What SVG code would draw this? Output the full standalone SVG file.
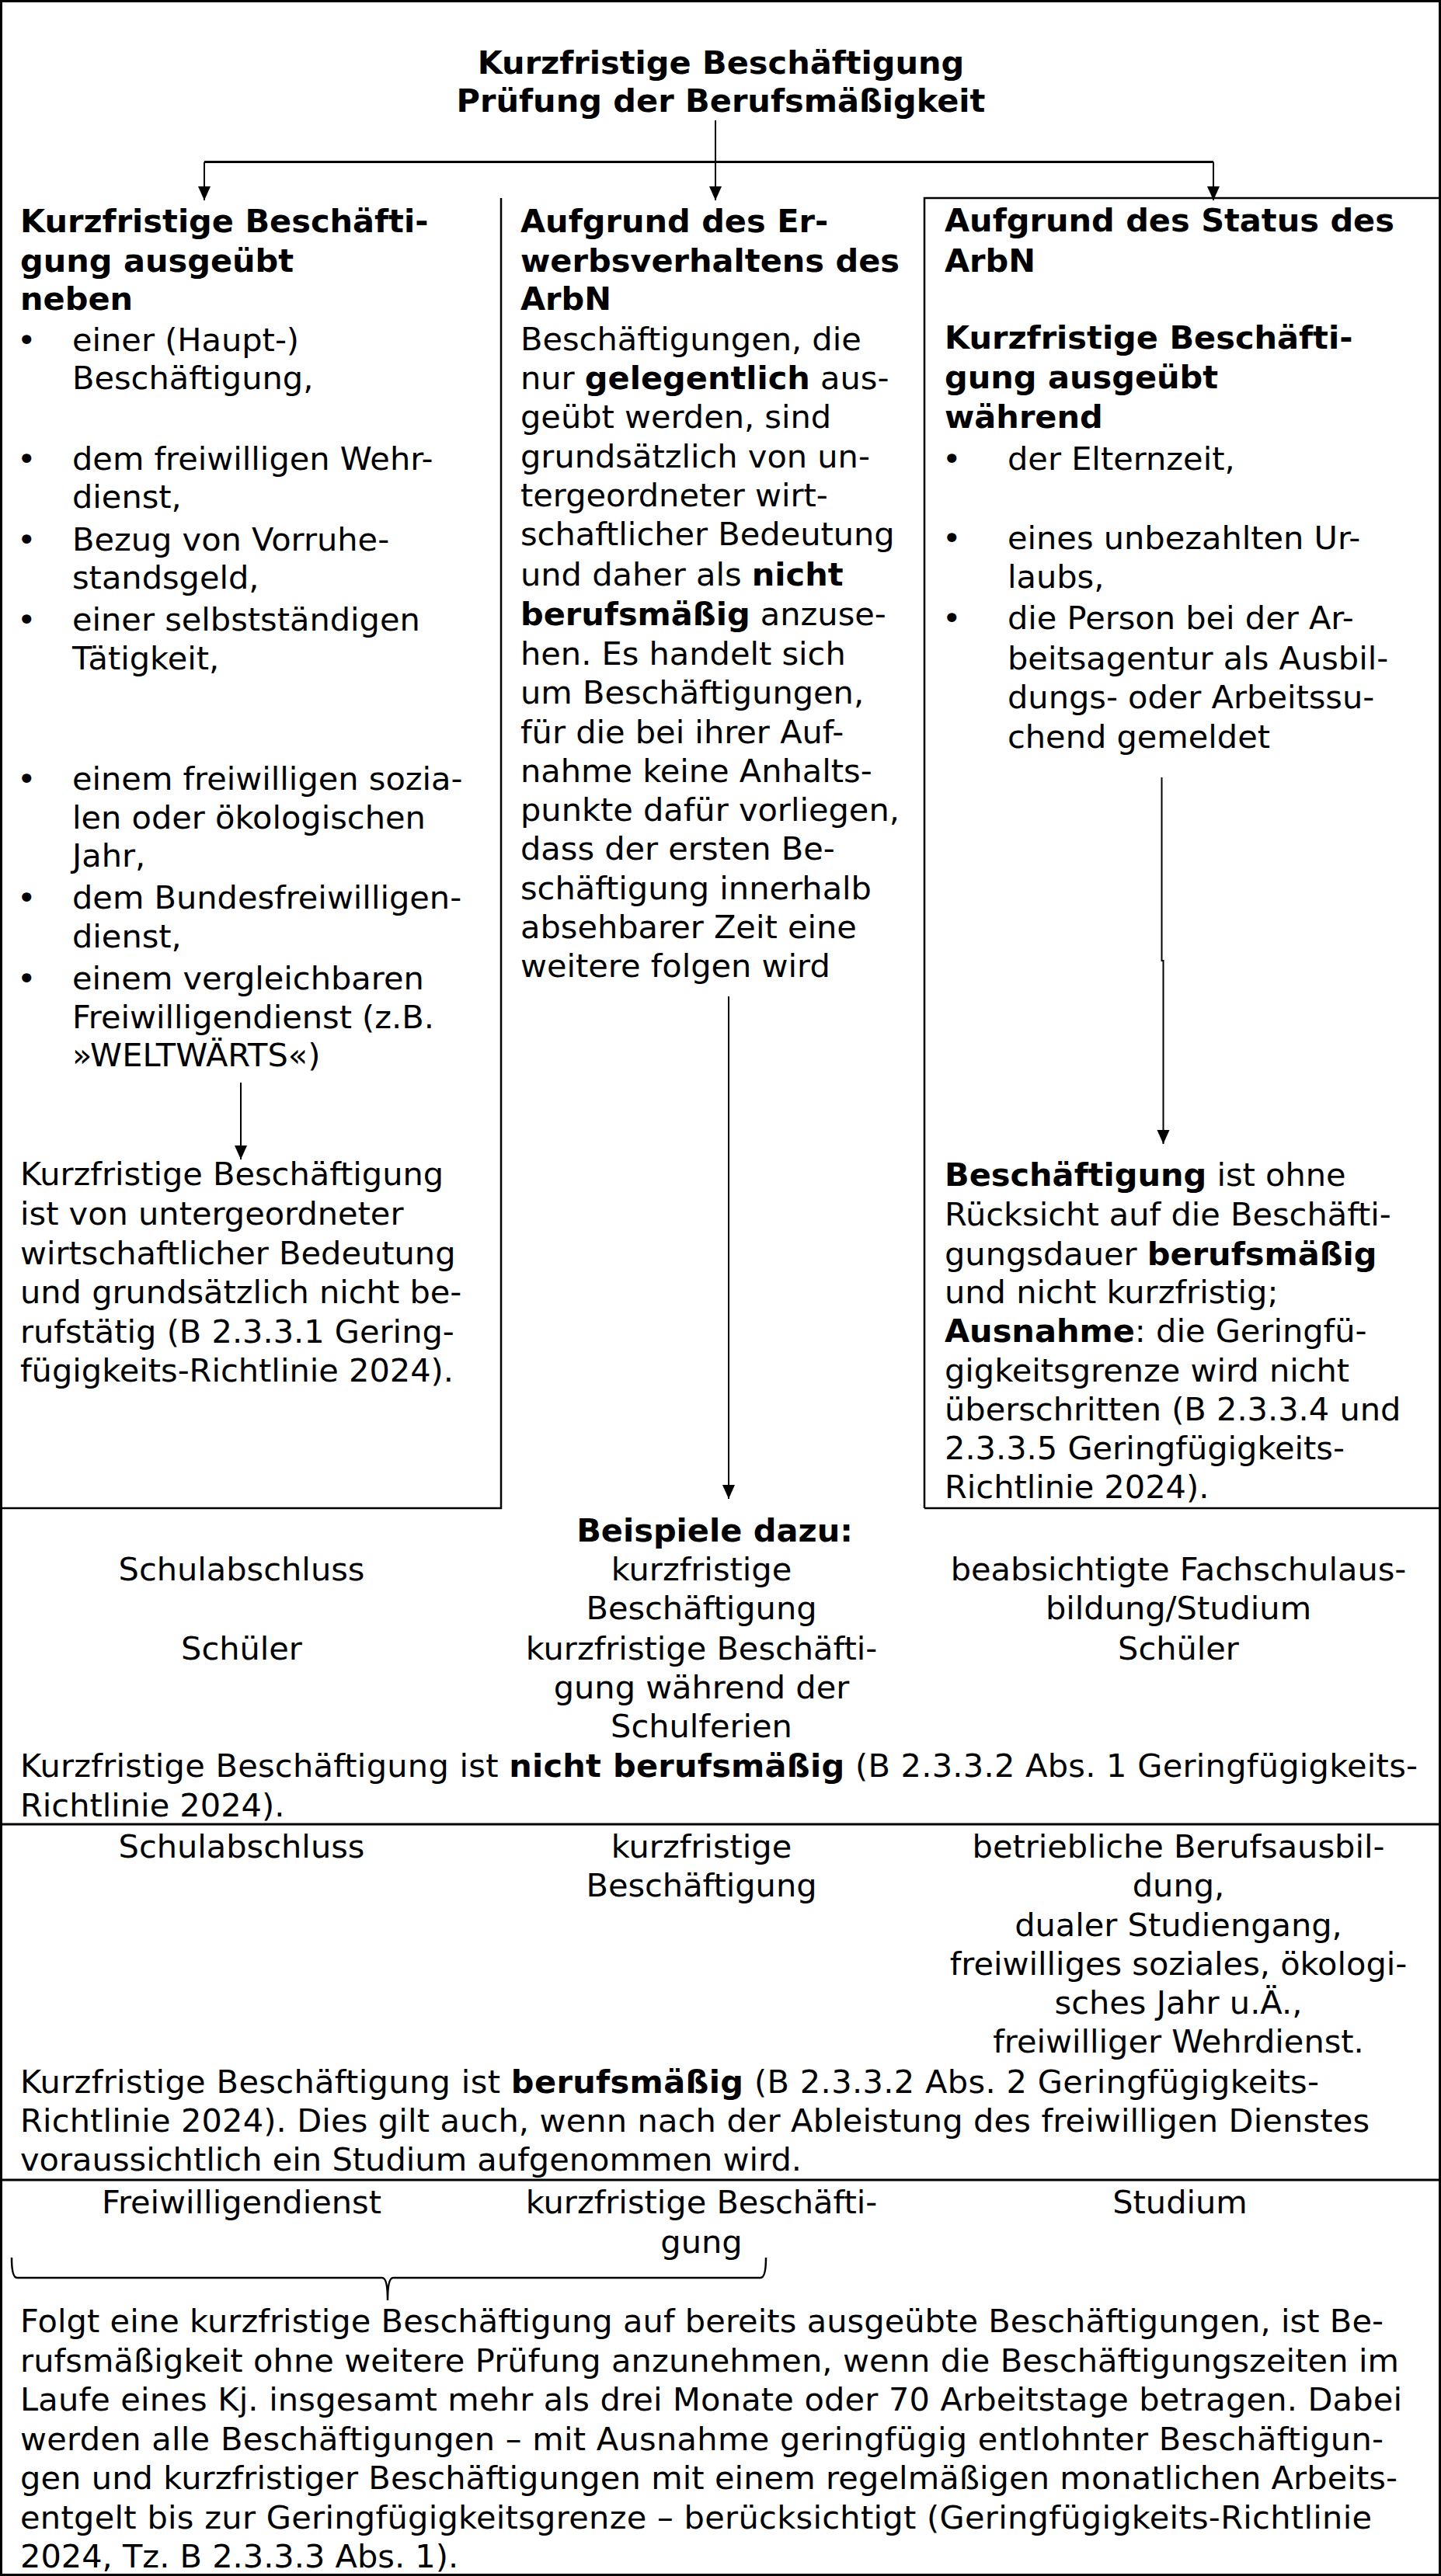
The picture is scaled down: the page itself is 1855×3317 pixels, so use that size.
<svg xmlns="http://www.w3.org/2000/svg" width="1855" height="3317" viewBox="0 0 1855 3317">
<style>
text{font-family:"DejaVu Sans","Verdana",sans-serif;font-size:41.5px;fill:#000}
.b{font-weight:bold}
.c{text-anchor:middle}
.ln{stroke:#000;fill:none;stroke-width:2.5}
.th{stroke:#000;fill:none;stroke-width:3}
.ar{stroke:#000;fill:none;stroke-width:2}
</style>
<defs>
<marker id="ah" markerWidth="18" markerHeight="18" refX="18" refY="9" orient="auto" markerUnits="userSpaceOnUse">
<path d="M0,1 L18,9 L0,17 z" fill="#000"/>
</marker>
</defs>
<rect x="0" y="0" width="1855" height="3317" fill="#fff"/>
<g id="frame">
<rect class="th" x="1.5" y="1.5" width="1852" height="3314"/>
<path class="ln" d="M645,255 V1942 H0"/>
<path class="ln" d="M1190,1942 V255 H1855 M1190,1942 H1855"/>
<path class="th" d="M0,2349 H1855 M0,2807 H1855"/>
</g>
<g id="connectors">
<path class="ar" d="M921,155 V258" marker-end="url(#ah)"/>
<path class="th" d="M263,208.5 H1562"/>
<path class="ar" d="M263,208.5 V258" marker-end="url(#ah)"/>
<path class="ar" d="M1562,208.5 V258" marker-end="url(#ah)"/>
<path class="ar" d="M310,1394 V1493" marker-end="url(#ah)"/>
<path class="ar" d="M938,1283 V1930" marker-end="url(#ah)"/>
<path class="ar" d="M1495.5,1001 V1237 H1497.5 V1473" marker-end="url(#ah)"/>
<path class="ln" d="M15,2907 Q15,2933 22,2933 L492,2933 Q499,2933 499,2962 Q499,2933 506,2933 L979,2933 Q986,2933 986,2907"/>
</g>
<g id="title">
<text class="b c" x="928" y="95">Kurzfristige Beschäftigung</text>
<text class="b c" x="928" y="144">Prüfung der Berufsmäßigkeit</text>
</g>
<g id="left-column">
<text class="b" x="26" y="299">Kurzfristige Beschäfti-</text>
<text class="b" x="26" y="349.5">gung ausgeübt</text>
<text class="b" x="26" y="399">neben</text>
<text x="22" y="452">•</text><text x="93" y="452">einer (Haupt-)</text>
<text x="93" y="501">Beschäftigung,</text>
<text x="22" y="604.5">•</text><text x="93" y="604.5">dem freiwilligen Wehr-</text>
<text x="93" y="654">dienst,</text>
<text x="22" y="709">•</text><text x="93" y="709">Bezug von Vorruhe-</text>
<text x="93" y="758">standsgeld,</text>
<text x="22" y="812">•</text><text x="93" y="812">einer selbstständigen</text>
<text x="93" y="861.5">Tätigkeit,</text>
<text x="22" y="1017">•</text><text x="93" y="1017">einem freiwilligen sozia-</text>
<text x="93" y="1066.5">len oder ökologischen</text>
<text x="93" y="1116">Jahr,</text>
<text x="22" y="1170">•</text><text x="93" y="1170">dem Bundesfreiwilligen-</text>
<text x="93" y="1220">dienst,</text>
<text x="22" y="1274">•</text><text x="93" y="1274">einem vergleichbaren</text>
<text x="93" y="1323.5">Freiwilligendienst (z.B.</text>
<text x="93" y="1373">»WELTWÄRTS«)</text>
</g>
<g id="left-result">
<text x="26" y="1526">Kurzfristige Beschäftigung</text>
<text x="26" y="1577">ist von untergeordneter</text>
<text x="26" y="1628">wirtschaftlicher Bedeutung</text>
<text x="26" y="1678">und grundsätzlich nicht be-</text>
<text x="26" y="1729">rufstätig (B 2.3.3.1 Gering-</text>
<text x="26" y="1779">fügigkeits-Richtlinie 2024).</text>
</g>
<g id="middle-column">
<text class="b" x="670" y="299">Aufgrund des Er-</text>
<text class="b" x="670" y="350">werbsverhaltens des</text>
<text class="b" x="670" y="399">ArbN</text>
<text x="670" y="451">Beschäftigungen, die</text>
<text x="670" y="501">nur <tspan class="b">gelegentlich</tspan> aus-</text>
<text x="670" y="551">geübt werden, sind</text>
<text x="670" y="601.5">grundsätzlich von un-</text>
<text x="670" y="652">tergeordneter wirt-</text>
<text x="670" y="702">schaftlicher Bedeutung</text>
<text x="670" y="753.5">und daher als <tspan class="b">nicht</tspan></text>
<text x="670" y="805"><tspan class="b">berufsmäßig</tspan> anzuse-</text>
<text x="670" y="856">hen. Es handelt sich</text>
<text x="670" y="906">um Beschäftigungen,</text>
<text x="670" y="956.5">für die bei ihrer Auf-</text>
<text x="670" y="1007">nahme keine Anhalts-</text>
<text x="670" y="1057">punkte dafür vorliegen,</text>
<text x="670" y="1107">dass der ersten Be-</text>
<text x="670" y="1157.5">schäftigung innerhalb</text>
<text x="670" y="1208">absehbarer Zeit eine</text>
<text x="670" y="1258">weitere folgen wird</text>
</g>
<g id="right-column">
<text class="b" x="1216" y="298">Aufgrund des Status des</text>
<text class="b" x="1216" y="349.5">ArbN</text>
<text class="b" x="1216" y="448.5">Kurzfristige Beschäfti-</text>
<text class="b" x="1216" y="499.5">gung ausgeübt</text>
<text class="b" x="1216" y="551">während</text>
<text x="1213" y="605">•</text><text x="1297" y="605">der Elternzeit,</text>
<text x="1213" y="706.5">•</text><text x="1297" y="706.5">eines unbezahlten Ur-</text>
<text x="1297" y="757">laubs,</text>
<text x="1213" y="809.5">•</text><text x="1297" y="809.5">die Person bei der Ar-</text>
<text x="1297" y="862">beitsagentur als Ausbil-</text>
<text x="1297" y="912">dungs- oder Arbeitssu-</text>
<text x="1297" y="962.5">chend gemeldet</text>
</g>
<g id="right-result">
<text x="1216" y="1527"><tspan class="b">Beschäftigung</tspan> ist ohne</text>
<text x="1216" y="1578">Rücksicht auf die Beschäfti-</text>
<text x="1216" y="1629">gungsdauer <tspan class="b">berufsmäßig</tspan></text>
<text x="1216" y="1678">und nicht kurzfristig;</text>
<text x="1216" y="1728"><tspan class="b">Ausnahme</tspan>: die Geringfü-</text>
<text x="1216" y="1779">gigkeitsgrenze wird nicht</text>
<text x="1216" y="1829">überschritten (B 2.3.3.4 und</text>
<text x="1216" y="1879">2.3.3.5 Geringfügigkeits-</text>
<text x="1216" y="1929">Richtlinie 2024).</text>
</g>
<g id="examples-1">
<text class="b c" x="920" y="1985">Beispiele dazu:</text>
<text class="c" x="311" y="2035">Schulabschluss</text>
<text class="c" x="903" y="2035">kurzfristige</text>
<text class="c" x="1517" y="2035">beabsichtigte Fachschulaus-</text>
<text class="c" x="903" y="2085">Beschäftigung</text>
<text class="c" x="1517" y="2085">bildung/Studium</text>
<text class="c" x="311" y="2137">Schüler</text>
<text class="c" x="903" y="2137">kurzfristige Beschäfti-</text>
<text class="c" x="1517" y="2137">Schüler</text>
<text class="c" x="903" y="2187">gung während der</text>
<text class="c" x="903" y="2237">Schulferien</text>
<text x="26" y="2288" textLength="1799" lengthAdjust="spacing">Kurzfristige Beschäftigung ist <tspan class="b">nicht berufsmäßig</tspan> (B 2.3.3.2 Abs. 1 Geringfügigkeits-</text>
<text x="26" y="2339">Richtlinie 2024).</text>
</g>
<g id="examples-2">
<text class="c" x="311" y="2392">Schulabschluss</text>
<text class="c" x="903" y="2392">kurzfristige</text>
<text class="c" x="1517" y="2392">betriebliche Berufsausbil-</text>
<text class="c" x="903" y="2442">Beschäftigung</text>
<text class="c" x="1517" y="2442">dung,</text>
<text class="c" x="1517" y="2493">dualer Studiengang,</text>
<text class="c" x="1517" y="2543">freiwilliges soziales, ökologi-</text>
<text class="c" x="1517" y="2593">sches Jahr u.Ä.,</text>
<text class="c" x="1517" y="2643">freiwilliger Wehrdienst.</text>
<text x="26" y="2695" textLength="1672" lengthAdjust="spacing">Kurzfristige Beschäftigung ist <tspan class="b">berufsmäßig</tspan> (B 2.3.3.2 Abs. 2 Geringfügigkeits-</text>
<text x="26" y="2745" textLength="1737" lengthAdjust="spacing">Richtlinie 2024). Dies gilt auch, wenn nach der Ableistung des freiwilligen Dienstes</text>
<text x="26" y="2795" textLength="1006" lengthAdjust="spacing">voraussichtlich ein Studium aufgenommen wird.</text>
</g>
<g id="examples-3">
<text class="c" x="311" y="2850">Freiwilligendienst</text>
<text class="c" x="903" y="2850">kurzfristige Beschäfti-</text>
<text class="c" x="1519" y="2850">Studium</text>
<text class="c" x="903" y="2901">gung</text>
<text x="26" y="3003" textLength="1755" lengthAdjust="spacing">Folgt eine kurzfristige Beschäftigung auf bereits ausgeübte Beschäftigungen, ist Be-</text>
<text x="26" y="3054" textLength="1775" lengthAdjust="spacing">rufsmäßigkeit ohne weitere Prüfung anzunehmen, wenn die Beschäftigungszeiten im</text>
<text x="26" y="3104" textLength="1779" lengthAdjust="spacing">Laufe eines Kj. insgesamt mehr als drei Monate oder 70 Arbeitstage betragen. Dabei</text>
<text x="26" y="3155" textLength="1755" lengthAdjust="spacing">werden alle Beschäftigungen – mit Ausnahme geringfügig entlohnter Beschäftigun-</text>
<text x="26" y="3205" textLength="1773" lengthAdjust="spacing">gen und kurzfristiger Beschäftigungen mit einem regelmäßigen monatlichen Arbeits-</text>
<text x="26" y="3255.5" textLength="1740" lengthAdjust="spacing">entgelt bis zur Geringfügigkeitsgrenze – berücksichtigt (Geringfügigkeits-Richtlinie</text>
<text x="26" y="3306">2024, Tz. B 2.3.3.3 Abs. 1).</text>
</g>
</svg>
